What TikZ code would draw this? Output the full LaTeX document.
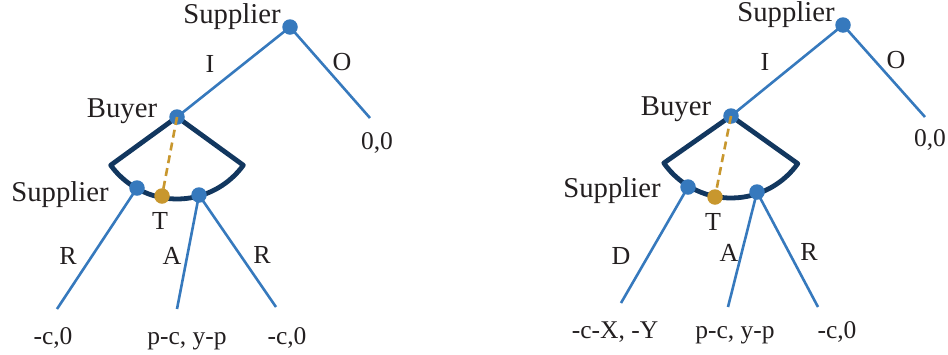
\documentclass[tikz,border=0pt]{standalone}
\usepackage{fontspec}
\setmainfont{Liberation Serif}
\begin{document}
\begin{tikzpicture}[x=1pt,y=-1pt,
  edge/.style={draw=eblue,line width=2.6pt},
  infoset/.style={draw=navy,line width=4.8pt,line join=round},
  dot/.style={circle,fill=eblue,inner sep=0pt,minimum size=15.5pt},
  gdot/.style={circle,fill=gold,inner sep=0pt,minimum size=15.5pt},
  gdash/.style={draw=gold,line width=2.6pt,dash pattern=on 8pt off 5pt},
  player/.style={anchor=base,inner sep=0pt,text=txt,font=\fontsize{28.7}{32}\selectfont},
  lab/.style={anchor=base,inner sep=0pt,text=txt,font=\fontsize{26}{30}\selectfont},
  pay/.style={anchor=base,inner sep=0pt,text=txt,font=\fontsize{25.5}{30}\selectfont}]
\definecolor{eblue}{HTML}{3679BD}
\definecolor{navy}{HTML}{12375F}
\definecolor{gold}{HTML}{C8972E}
\definecolor{txt}{HTML}{231F20}
\useasboundingbox (0,0) rectangle (948,354);

% ---------------- left tree ----------------
\coordinate (aS0) at (290,27);
\coordinate (aBu) at (177,117);
\coordinate (aOe) at (370,118);
\coordinate (aS1) at (137,188);
\coordinate (aG)  at (162,196);
\coordinate (aS2) at (199,195);
\coordinate (aL1) at (57,309);
\coordinate (aL2) at (177,309);
\coordinate (aL3) at (276,307);
\draw[edge] (aS0) -- (aBu);
\draw[edge] (aS0) -- (aOe);
\draw[edge] (aS1) -- (aL1);
\draw[edge] (aS2) -- (aL2);
\draw[edge] (aS2) -- (aL3);
\draw[infoset] (aBu) -- ++(144:82) arc[start angle=144,end angle=36,radius=82] -- cycle;
\node[dot] (naS0) at (aS0) {};
\node[dot] (naBu) at (aBu) {};
\node[dot] (naS1) at (aS1) {};
\node[dot] (naS2) at (aS2) {};
\draw[gdash] (aBu) -- (aG);
\node[gdot] (naG) at (aG) {};
\node[player] (ta1) at (232,23) {Supplier};
\node[lab] (ta2) at (210,72.5) {I};
\node[lab] (ta3) at (342,70.5) {O};
\node[pay] (ta4) at (377,149) {0,0};
\node[player] (ta5) at (122,117) {Buyer};
\node[player] (ta6) at (60,201) {Supplier};
\node[lab] (ta7) at (160,229) {T};
\node[lab] (ta8) at (68,264) {R};
\node[lab] (ta9) at (172,264) {A};
\node[lab] (ta10) at (262,263) {R};
\node[pay] (ta11) at (53,344.5) {-c,0};
\node[pay] (ta12) at (187,344.5) {p-c, y-p};
\node[pay] (ta13) at (287,344.5) {-c,0};

% ---------------- right tree ----------------
\coordinate (bS0) at (843,25);
\coordinate (bBu) at (731,116);
\coordinate (bOe) at (925,117);
\coordinate (bS1) at (688,187);
\coordinate (bG)  at (715,197);
\coordinate (bS2) at (757,192);
\coordinate (bL1) at (621,303);
\coordinate (bL2) at (728,307);
\coordinate (bL3) at (818,307);
\draw[edge] (bS0) -- (bBu);
\draw[edge] (bS0) -- (bOe);
\draw[edge] (bS1) -- (bL1);
\draw[edge] (bS2) -- (bL2);
\draw[edge] (bS2) -- (bL3);
\draw[infoset] (bBu) -- ++(145:82) arc[start angle=145,end angle=35.5,radius=82] -- cycle;
\node[dot] (nbS0) at (bS0) {};
\node[dot] (nbBu) at (bBu) {};
\node[dot] (nbS1) at (bS1) {};
\node[dot] (nbS2) at (bS2) {};
\draw[gdash] (bBu) -- (bG);
\node[gdot] (nbG) at (bG) {};
\node[player] (tb1) at (786,21.7) {Supplier};
\node[lab] (tb2) at (765,70) {I};
\node[lab] (tb3) at (896,68.3) {O};
\node[pay] (tb4) at (930,146) {0,0};
\node[player] (tb5) at (676,115) {Buyer};
\node[player] (tb6) at (612,197.3) {Supplier};
\node[lab] (tb7) at (713,230.7) {T};
\node[lab] (tb8) at (621,264) {D};
\node[lab] (tb9) at (729,261.7) {A};
\node[lab] (tb10) at (809,260.7) {R};
\node[pay] (tb11) at (615,338.3) {-c-X, -Y};
\node[pay] (tb12) at (735,338.3) {p-c, y-p};
\node[pay] (tb13) at (837,338.3) {-c,0};
\end{tikzpicture}
\end{document}
